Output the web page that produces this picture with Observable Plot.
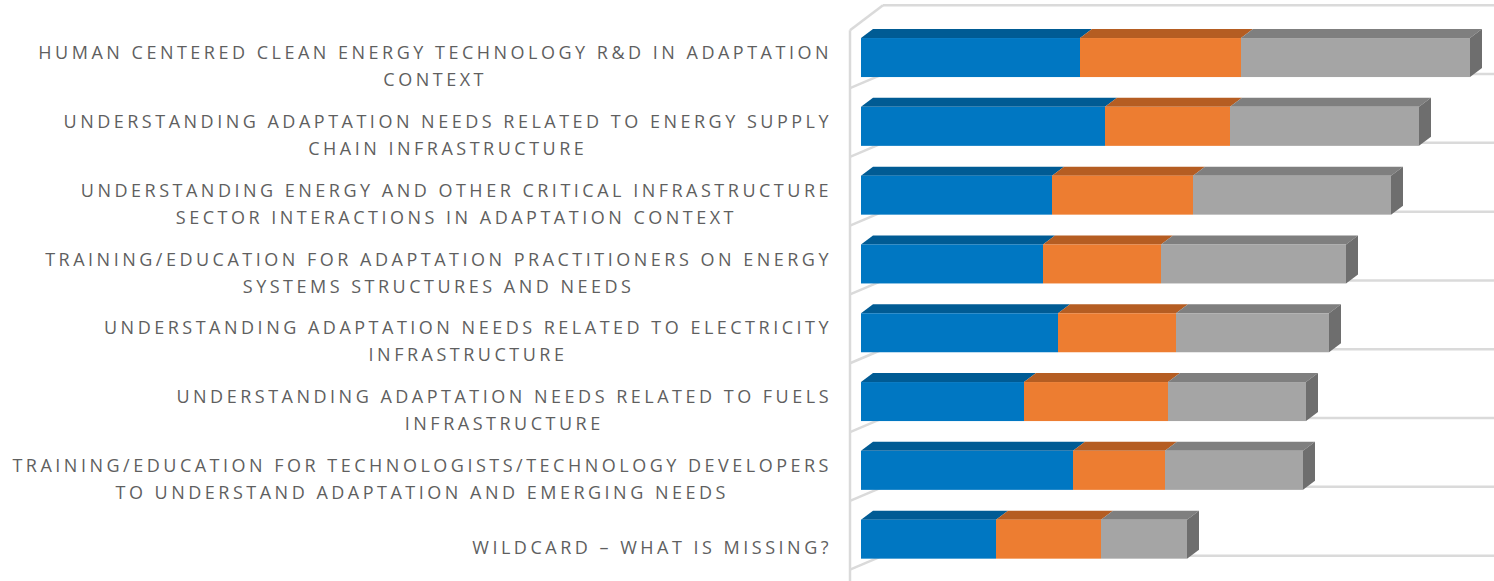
<!DOCTYPE html>
<html><head><meta charset="utf-8">
<script src="https://cdn.jsdelivr.net/npm/d3@7"></script>
<script src="https://cdn.jsdelivr.net/npm/@observablehq/plot@0.6"></script>
<style>html,body{margin:0;padding:0;background:#fff;} #chart svg{display:block}</style>
</head><body><div id="chart"></div>
<script>
const categories = [
  "HUMAN CENTERED CLEAN ENERGY TECHNOLOGY R&D IN ADAPTATION\nCONTEXT",
  "UNDERSTANDING ADAPTATION NEEDS RELATED TO ENERGY SUPPLY\nCHAIN INFRASTRUCTURE",
  "UNDERSTANDING ENERGY AND OTHER CRITICAL INFRASTRUCTURE\nSECTOR INTERACTIONS IN ADAPTATION CONTEXT",
  "TRAINING/EDUCATION FOR ADAPTATION PRACTITIONERS ON ENERGY\nSYSTEMS STRUCTURES AND NEEDS",
  "UNDERSTANDING ADAPTATION NEEDS RELATED TO ELECTRICITY\nINFRASTRUCTURE",
  "UNDERSTANDING ADAPTATION NEEDS RELATED TO FUELS\nINFRASTRUCTURE",
  "TRAINING/EDUCATION FOR TECHNOLOGISTS/TECHNOLOGY DEVELOPERS\nTO UNDERSTAND ADAPTATION AND EMERGING NEEDS",
  "WILDCARD – WHAT IS MISSING?"
];
const seriesNames = ["Series 1", "Series 2", "Series 3"];
const series1Values = [21.9, 24.4, 19.1, 18.2, 19.7, 16.3, 21.2, 13.5];
const series2Values = [16.1, 12.5, 14.1, 11.8, 11.8, 14.4, 9.2, 10.5];
const series3Values = [22.9, 18.9, 19.8, 18.5, 15.3, 13.8, 13.8, 8.6];
const frontColors = ["#0077c2", "#ed7d31", "#a5a5a5"];
const topColors = ["#005b94", "#b55d22", "#7f7f7f"];
const sideColor = "#6e6e6e";

const allValues = [series1Values, series2Values, series3Values];
const rows = categories.flatMap((c, i) =>
  seriesNames.map((s, j) => ({category: c, series: s, si: j, value: allValues[j][i]})));

const DX = 12, DY = 9;

function faces(index, scales, values) {
  const X1 = values.x1, X2 = values.x2, Y = values.y;
  const bw = scales.y.bandwidth();
  const g = d3.create("svg:g");
  const idx = Array.from(index);
  const ends = new Map();
  for (const i of idx) {
    const key = rows[i].category;
    if (!ends.has(key) || X2[i] > X2[ends.get(key)]) ends.set(key, i);
  }
  for (const i of idx) {
    const a = X1[i], b = X2[i], t = Y[i];
    g.append("polygon")
      .attr("points", [[a, t], [b, t], [b + DX, t - DY], [a + DX, t - DY]].map(p => p.join(",")).join(" "))
      .attr("fill", topColors[rows[i].si]);
  }
  for (const i of idx) {
    g.append("rect")
      .attr("x", X1[i]).attr("y", Y[i])
      .attr("width", X2[i] - X1[i]).attr("height", bw)
      .attr("fill", frontColors[rows[i].si]);
  }
  for (const i of ends.values()) {
    const b = X2[i], t = Y[i];
    g.append("polygon")
      .attr("points", [[b, t], [b + DX, t - DY], [b + DX, t + bw - DY], [b, t + bw]].map(p => p.join(",")).join(" "))
      .attr("fill", sideColor);
  }
  return g.node();
}

function wall(index, scales, values, dimensions) {
  const bw = scales.y.bandwidth();
  const step = scales.y.step();
  const y0 = scales.y(categories[0]);
  const left = dimensions.marginLeft - 11, back = dimensions.marginLeft + 22;
  const g = d3.create("svg:g").attr("stroke", "#dadada").attr("stroke-width", 2.5).attr("fill", "none");
  const n = categories.length;
  let yTop = 0;
  for (let k = 0; k <= n; k++) {
    const yb = y0 - step + (bw - 3) + step * k;
    const drop = k === 0 ? 25 : 14;
    if (k === 0) yTop = yb + drop;
    g.append("line").attr("x1", left).attr("y1", yb + drop).attr("x2", back).attr("y2", yb);
    g.append("line").attr("x1", back).attr("y1", yb).attr("x2", dimensions.width).attr("y2", yb);
  }
  g.append("line").attr("x1", left).attr("y1", yTop).attr("x2", left).attr("y2", dimensions.height);
  return g.node();
}

const chart = Plot.plot({
  width: 1494,
  height: 581,
  marginLeft: 861,
  marginRight: 0,
  marginTop: 17.4,
  marginBottom: 1.7,
  style: {fontFamily: "'Open Sans', sans-serif", letterSpacing: "3.5px", background: "#fff"},
  x: {domain: [0, 63.3], axis: null},
  y: {domain: categories, axis: null, paddingInner: 0.433, paddingOuter: 0.3, round: false},
  marks: [
    Plot.ruleY(categories, {y: d => d, render: wall}),
    Plot.barX(rows, Plot.stackX({y: "category", x: "value", fill: "series", render: faces})),
    Plot.text(categories, {
      y: d => d, text: d => d, frameAnchor: "left", textAnchor: "middle",
      dy: 6, fontSize: 18, lineHeight: 1.5, fill: "#5f5f5f"
    })
  ]
});
document.getElementById("chart").append(chart);

// right-align each label block at the reference's right edge, keeping lines centered
const svgRect = chart.getBoundingClientRect();
chart.querySelectorAll('g[aria-label="text"] text').forEach(t => {
  const r = t.getBoundingClientRect();
  const shift = 832 - (r.right - svgRect.left);
  const tr = t.getAttribute("transform") || "";
  t.setAttribute("transform", `${tr} translate(${shift},0)`);
});
</script>
</body></html>
